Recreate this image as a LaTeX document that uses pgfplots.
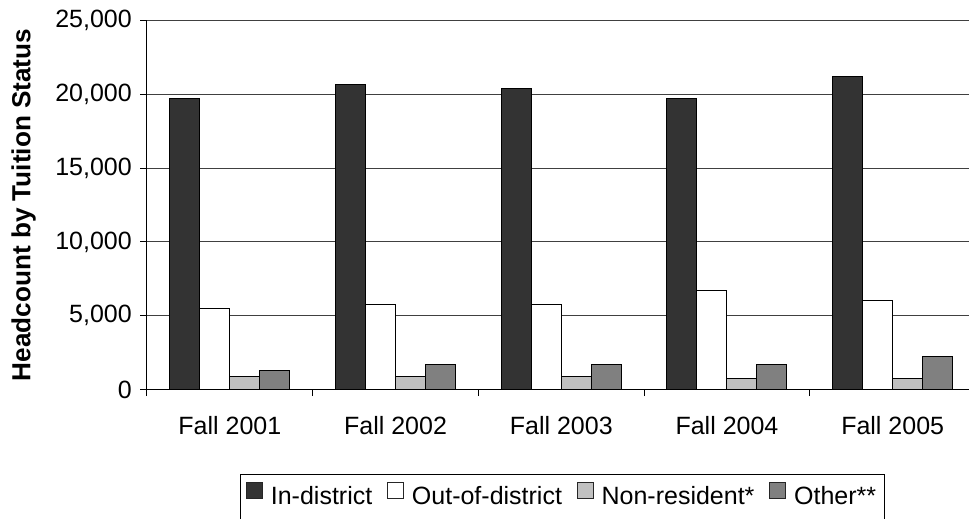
\documentclass[border=0pt]{standalone}
\usepackage{pgfplots}
\pgfplotsset{compat=1.18}
\usepackage{fontspec}
\setmainfont{Liberation Sans}

\definecolor{indist}{HTML}{333333}
\definecolor{nonres}{HTML}{C0C0C0}
\definecolor{other}{HTML}{808080}

% headcount by tuition status
\pgfplotstableread{
x indist outdist nonres other
0 19690 5490 900 1310
1 20640 5780 900 1720
2 20370 5780 900 1720
3 19690 6680 770 1720
4 21180 6030 770 2260
}\headcount

\begin{document}
\fontsize{18.75}{22}\selectfont
\begin{tikzpicture}
\begin{axis}[
  at={(0pt,0pt)}, anchor=south west,
  scale only axis,
  width=621.4pt, height=276.75pt,
  xmin=-0.5, xmax=4.5,
  ymin=0, ymax=25000,
  axis x line*=bottom, axis y line*=left,
  axis line style={line width=0.75pt},
  xtick={-0.5,0.5,1.5,2.5,3.5,4.5},
  x tick label as interval,
  xticklabels={Fall 2001,Fall 2002,Fall 2003,Fall 2004,Fall 2005},
  xticklabel style={yshift=-9pt},
  tick align=outside,
  major tick length=5pt,
  tick style={black, line width=0.75pt},
  ytick={0,5000,10000,15000,20000,25000},
  ymajorgrids,
  major grid style={black!75, line width=0.75pt},
  scaled y ticks=false,
  /pgf/number format/1000 sep={,},
  /pgf/number format/assume math mode=true,
  ticklabel style={font=\fontsize{18.75}{22}\selectfont},
  ylabel={\bfseries Headcount by Tuition Status},
  ylabel style={at={(axis description cs:-0.149,0.5)}, anchor=center, font=\fontsize{19.6}{22}\selectfont},
  ybar, bar width=22.5pt,
  every axis plot/.append style={draw=black, line width=0.75pt},
  legend columns=-1,
  legend style={at={(axis description cs:0.1123,-0.229)}, anchor=north west,
    draw=black, line width=0.75pt, font=\fontsize{18.75}{22}\selectfont,
    inner xsep=4pt, inner ysep=6pt,
    /tikz/every odd column/.append style={column sep=4pt},
    /tikz/every even column/.append style={column sep=9pt}},
  legend image code/.code={\draw[#1, draw=black!85] (0pt,-1pt) rectangle (12pt,11pt);},
]
\addplot[fill=indist, bar shift=-33.75pt] table[x=x, y=indist] {\headcount};
\addplot[fill=white, bar shift=-11.25pt] table[x=x, y=outdist] {\headcount};
\addplot[fill=nonres, bar shift=11.25pt] table[x=x, y=nonres] {\headcount};
\addplot[fill=other, bar shift=33.75pt] table[x=x, y=other] {\headcount};
\legend{In-district,Out-of-district,Non-resident*,Other**}
\end{axis}
\pgfresetboundingbox
\useasboundingbox (-110.25pt,-97.1pt) rectangle (616.5pt,292.1pt);
\end{tikzpicture}
\end{document}
